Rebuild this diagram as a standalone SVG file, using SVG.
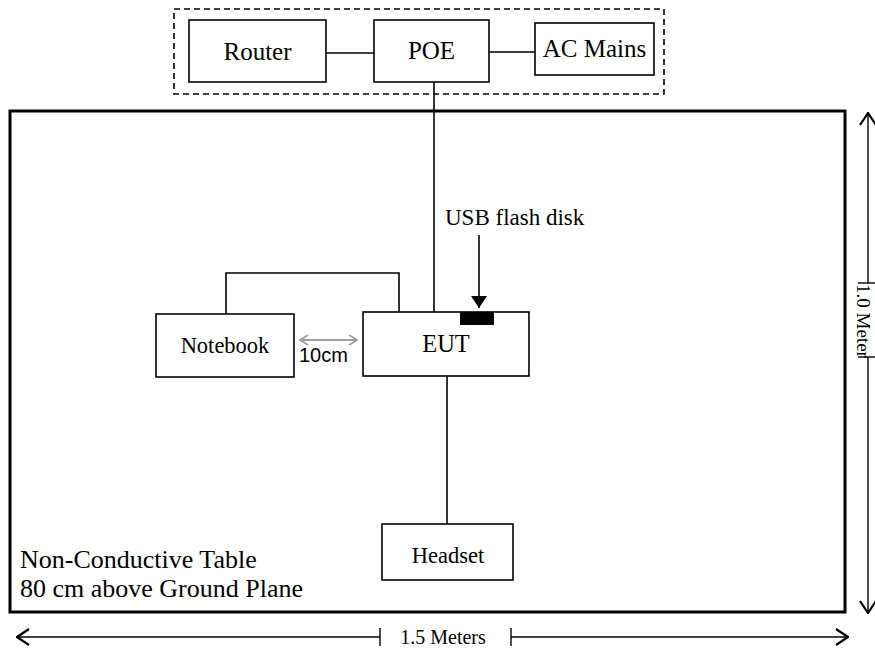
<svg xmlns="http://www.w3.org/2000/svg" width="875" height="653" viewBox="0 0 875 653">
<style>
  .box { fill: #fff; stroke: #000; stroke-width: 1.6; }
  .t { font-family: "Liberation Serif", "Times New Roman", serif; fill: #000; }
  .ln { fill: none; stroke: #000; stroke-width: 1.6; }
  .dim { fill: none; stroke: #000; stroke-width: 1.4; }
</style>
<defs>
  <marker id="chev" viewBox="0 0 14 18" refX="13" refY="9" markerWidth="14" markerHeight="18" markerUnits="userSpaceOnUse" orient="auto-start-reverse">
    <path d="M1,1 L13,9 L1,17" fill="none" stroke="#000" stroke-width="2.2"/>
  </marker>
  <marker id="gchev" viewBox="0 0 10 12" refX="9" refY="6" markerWidth="10" markerHeight="12" markerUnits="userSpaceOnUse" orient="auto-start-reverse">
    <path d="M1,1 L9,6 L1,11" fill="none" stroke="#a0a0a0" stroke-width="1.8"/>
  </marker>
  <marker id="tri" viewBox="0 0 12 16" refX="12" refY="8" markerWidth="12" markerHeight="16" markerUnits="userSpaceOnUse" orient="auto">
    <path d="M0,0 L12,8 L0,16 Z" fill="#000"/>
  </marker>
</defs>

<!-- table -->
<g id="table">
  <rect x="10" y="111" width="835" height="501" fill="#fff" stroke="#000" stroke-width="3"/>
  <text class="t" x="20" y="568" font-size="26">Non-Conductive Table</text>
  <text class="t" x="20" y="597" font-size="26">80 cm above Ground Plane</text>
</g>

<!-- dashed enclosure -->
<g id="support-group">
  <rect x="174" y="9" width="490" height="85" fill="none" stroke="#000" stroke-width="1.6" stroke-dasharray="6,4"/>
</g>

<g id="connectors">
  <line class="ln" x1="326" y1="53" x2="374" y2="53"/>
  <line class="ln" x1="489" y1="52" x2="535" y2="52"/>
  <line class="ln" x1="434" y1="82" x2="434" y2="312"/>
  <polyline class="ln" points="226,314 226,273 399,273 399,312"/>
  <line class="ln" x1="447" y1="376" x2="447" y2="524"/>
  <line class="ln" x1="479" y1="235" x2="479" y2="308" marker-end="url(#tri)"/>
  <line x1="300" y1="340" x2="357" y2="340" stroke="#a0a0a0" stroke-width="1.8" marker-start="url(#gchev)" marker-end="url(#gchev)"/>
</g>

<g id="router">
  <rect class="box" x="189" y="20" width="137" height="62"/>
  <text class="t" x="257.5" y="60" font-size="25" text-anchor="middle">Router</text>
</g>
<g id="poe">
  <rect class="box" x="374" y="20" width="115" height="62"/>
  <text class="t" x="431.5" y="59" font-size="25" text-anchor="middle">POE</text>
</g>
<g id="ac-mains">
  <rect class="box" x="535" y="23" width="119" height="52"/>
  <text class="t" x="594.5" y="57" font-size="25" text-anchor="middle">AC Mains</text>
</g>
<g id="notebook">
  <rect class="box" x="156" y="314" width="138" height="63"/>
  <text class="t" x="225" y="353" font-size="22.5" text-anchor="middle">Notebook</text>
</g>
<g id="eut">
  <rect class="box" x="363" y="312" width="166" height="64"/>
  <rect x="460" y="312" width="34" height="13" fill="#000"/>
  <text class="t" x="446" y="352" font-size="24.5" text-anchor="middle">EUT</text>
</g>
<g id="headset">
  <rect class="box" x="382" y="524" width="131" height="56"/>
  <text class="t" x="448" y="563" font-size="22.5" text-anchor="middle">Headset</text>
</g>
<g id="usb-label">
  <text class="t" x="445" y="225" font-size="23">USB flash disk</text>
</g>
<g id="distance-label">
  <text x="299" y="362" font-family="Liberation Sans, Arial, sans-serif" font-size="20" fill="#000">10cm</text>
</g>

<!-- dimensions -->
<g id="dim-width">
  <line class="dim" x1="380" y1="637" x2="17" y2="637" marker-end="url(#chev)"/>
  <line class="dim" x1="511" y1="637" x2="848" y2="637" marker-end="url(#chev)"/>
  <line class="dim" x1="380" y1="628" x2="380" y2="646"/>
  <line class="dim" x1="511" y1="628" x2="511" y2="646"/>
  <text class="t" x="443" y="644" font-size="20" text-anchor="middle">1.5 Meters</text>
</g>
<g id="dim-height">
  <line class="dim" x1="868" y1="283" x2="868" y2="113" marker-end="url(#chev)"/>
  <line class="dim" x1="868" y1="357" x2="868" y2="613" marker-end="url(#chev)"/>
  <line class="dim" x1="858" y1="283" x2="876" y2="283"/>
  <line class="dim" x1="858" y1="357" x2="876" y2="357"/>
  <text class="t" transform="translate(857,321) rotate(90)" font-size="19" text-anchor="middle">1.0 Meter</text>
</g>
</svg>
